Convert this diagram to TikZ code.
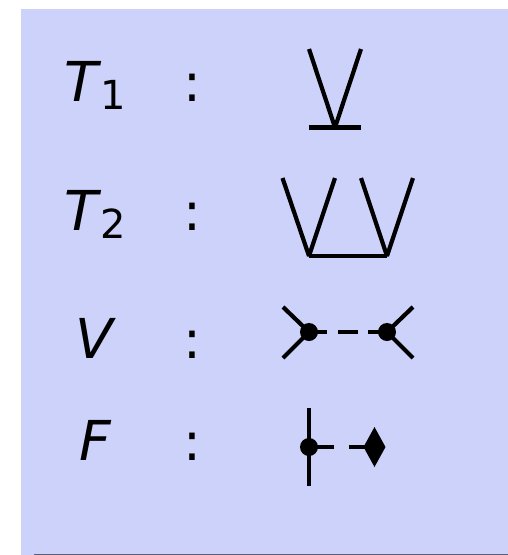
\documentclass[tikz,border=0pt]{standalone}
\usepackage{fontspec}
\setmainfont{DejaVu Sans}
\usetikzlibrary{shapes.geometric}
\definecolor{panel}{HTML}{CCD2F9}
\definecolor{edgeline}{HTML}{5A5E78}
\newcommand{\lab}[2]{{\fontsize{55}{55}\selectfont\itshape #1}\ifx&#2&\else\kern3pt\raisebox{-8pt}{\fontsize{40}{40}\selectfont #2}\fi}
\tikzset{
  lbl/.style={anchor=base west,inner sep=0pt,outer sep=0pt,text=black},
  colonlbl/.style={anchor=base,inner sep=0pt,outer sep=0pt,text=black,font=\fontsize{53}{53}\selectfont},
  line/.style={line width=4.2pt,black,line join=bevel},
  dashline/.style={line width=4.2pt,black,dash pattern=on 18pt off 11pt on 20pt off 10pt on 19pt off 100pt},
  dashlinetwo/.style={line width=4.2pt,black,dash pattern=on 25pt off 15pt on 16pt off 100pt},
  blob/.style={circle,fill=black,minimum size=18pt,inner sep=0pt,outer sep=0pt},
  gem/.style={diamond,fill=black,minimum width=22pt,minimum height=40pt,inner sep=0pt,outer sep=0pt,aspect=0.55}
}
\begin{document}
\begin{tikzpicture}[x=1pt,y=-1pt]
\useasboundingbox (0,0) rectangle (508,555);
\fill[panel] (21,9) rectangle (508,555);
\fill[edgeline] (34,553.8) rectangle (508,555);
% labels
\node[lbl] (t1) at (64,101) {\lab{T}{1}};
\node[lbl] (t2) at (64,230) {\lab{T}{2}};
\node[lbl] (v) at (75,358) {\lab{V}{}};
\node[lbl] (f) at (79,460) {\lab{F}{}};
\node[colonlbl] (c1) at (192,101) {:};
\node[colonlbl] (c2) at (192,230) {:};
\node[colonlbl] (c3) at (192,358) {:};
\node[colonlbl] (c4) at (192,460) {:};
% T1
\coordinate (a1) at (309,49);
\coordinate (a2) at (361,49);
\coordinate (a3) at (335,127.5);
\coordinate (a4) at (309,127.5);
\coordinate (a5) at (361,127.5);
\draw[line] (a1) -- (a3) -- (a2);
\draw[line] (a4) -- (a5);
% T2
\coordinate (b1) at (282.5,178);
\coordinate (b2) at (309,256);
\coordinate (b3) at (335,178);
\coordinate (b4) at (361,178);
\coordinate (b5) at (387,256);
\coordinate (b6) at (413,178);
\draw[line] (b1) -- (b2) -- (b3);
\draw[line] (b4) -- (b5) -- (b6);
\draw[line] (b2) -- (b5);
% V
\node[blob] (v1) at (309,332) {};
\node[blob] (v2) at (387,332) {};
\coordinate (v3) at (283,307);
\coordinate (v4) at (283,358);
\coordinate (v5) at (413,307);
\coordinate (v6) at (413,358);
\draw[line] (v3) -- (v1.center) -- (v4);
\draw[line] (v5) -- (v2.center) -- (v6);
\draw[dashline] (v1.center) -- (v2.center);
% F
\node[blob] (f1) at (309,447) {};
\node[gem] (f2) at (374.5,447) {};
\coordinate (f3) at (309,408);
\coordinate (f4) at (309,486);
\draw[line] (f3) -- (f4);
\draw[dashlinetwo] (f1.center) -- (f2.center);
\end{tikzpicture}
\end{document}
